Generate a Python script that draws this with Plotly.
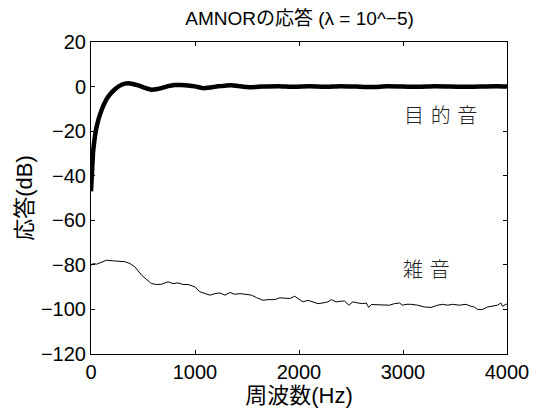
import plotly.graph_objects as go

# Target (desired) signal response, dB vs frequency in Hz
target_freq = [0, 10, 22, 54, 102, 166, 230, 294, 358, 454, 520, 581, 640, 677, 740, 805,
               870, 933, 1000, 1075, 1150, 1220, 1290, 1350, 1420, 1525, 1650, 1800, 1950,
               2100, 2250, 2400, 2550, 2700, 2850, 3000, 3150, 3300, 3450, 3600, 3750, 3900, 4000]
target_db = [-47, -38, -28.5, -18, -10.5, -4.5, -1.2, 0.8, 1.5, 0.5, -0.6, -1.4, -1.1, -0.7, 0.2, 0.7,
             0.7, 0.5, 0.1, -0.7, -0.4, 0.1, 0.4, 0.6, 0.2, -0.3, 0.0, 0.2, -0.1,
             0.1, -0.1, 0.2, 0.0, -0.2, 0.1, 0.0, -0.1, 0.1, 0.0, -0.1, 0.0, 0.1, 0.0]

# Noise response, dB vs frequency in Hz
noise_freq = [0, 22, 54, 86, 150, 214, 278, 326, 374, 422, 486, 533, 581, 629, 677, 741, 789,
              837, 885, 933, 1000, 1048, 1096, 1144, 1192, 1240, 1288, 1336, 1384, 1432, 1480,
              1544, 1592, 1655, 1703, 1767, 1815, 1863, 1911, 1959, 2007, 2038, 2086, 2134,
              2182, 2230, 2278, 2310, 2358, 2406, 2438, 2479, 2518, 2566, 2614, 2646, 2671,
              2694, 2758, 2822, 2870, 2918, 2966, 2997, 3029, 3078, 3141, 3205, 3269, 3333,
              3381, 3429, 3477, 3541, 3605, 3653, 3685, 3717, 3765, 3813, 3861, 3909, 3941,
              3957, 3989, 4000]
noise_db = [-80.1, -79.4, -79.7, -79.1, -77.9, -78.2, -78.3, -78.6, -79.4, -80.9, -84.6, -86.6,
            -88.4, -88.8, -88.7, -87.6, -88.4, -88.1, -88.8, -88.8, -89.9, -92.1, -92.9, -93.6,
            -92.9, -92.6, -93.6, -92.4, -93.2, -92.9, -93.2, -93.6, -94.7, -95.9, -95.6, -95.6,
            -94.8, -94.8, -95.1, -94.1, -95.6, -96.6, -95.9, -96.6, -97.4, -97.1, -96.6, -95.6,
            -96.6, -96.3, -96.2, -98.1, -96.6, -97.1, -97.4, -97.1, -99.1, -97.8, -97.8, -98.0,
            -98.1, -97.4, -97.1, -98.1, -97.7, -97.7, -98.1, -98.9, -99.1, -98.1, -97.7, -98.1,
            -97.7, -98.1, -97.7, -98.6, -98.9, -100.0, -100.0, -98.9, -98.4, -98.1, -97.1,
            -98.6, -97.7, -97.6]

x_ticks = [0, 1000, 2000, 3000, 4000]
y_ticks = [20, 0, -20, -40, -60, -80, -100, -120]

FONT = "Liberation Sans, Noto Sans CJK JP"
CJK = "Noto Sans CJK JP"

fig = go.Figure()
fig.add_trace(go.Scatter(x=target_freq, y=target_db, mode="lines",
                         line=dict(color="black", width=4.5, shape="spline", smoothing=0.6),
                         showlegend=False))
fig.add_trace(go.Scatter(x=noise_freq, y=noise_db, mode="lines",
                         line=dict(color="black", width=1),
                         showlegend=False))

fig.add_annotation(x=3365, y=-12.7, text="目\u2004的\u2004音", showarrow=False,
                   font=dict(family=CJK, size=20, color="#222", weight=300))
fig.add_annotation(x=3227, y=-81.6, text="雑\u2004音", showarrow=False,
                   font=dict(family=CJK, size=20, color="#222", weight=300))

axis_common = dict(showline=True, linecolor="black", linewidth=1, mirror="ticks",
                   ticks="inside", ticklen=4, tickcolor="black", showgrid=False,
                   zeroline=False, automargin=False,
                   tickfont=dict(family=FONT, size=20, color="black"))

fig.update_layout(
    width=533, height=410,
    margin=dict(l=91, r=26, t=42, b=56),
    paper_bgcolor="white", plot_bgcolor="white",
    title=dict(text="AMNORの応答 (λ = 10^−5)", x=0.562, xanchor="center",
               y=1 - 18 / 410, yref="container", yanchor="middle", automargin=False,
               font=dict(family=FONT, size=19, color="black")),
    xaxis=dict(range=[0, 4000], tickvals=x_ticks,
               title=dict(text="周波数(Hz)", font=dict(family=FONT, size=22, color="black"),
                          standoff=0),
               **axis_common),
    yaxis=dict(range=[-120, 20], tickvals=y_ticks,
               title=dict(text="応答(dB)", font=dict(family=FONT, size=22, color="black"),
                          standoff=2),
               **axis_common),
)

fig.write_html("out.html")
